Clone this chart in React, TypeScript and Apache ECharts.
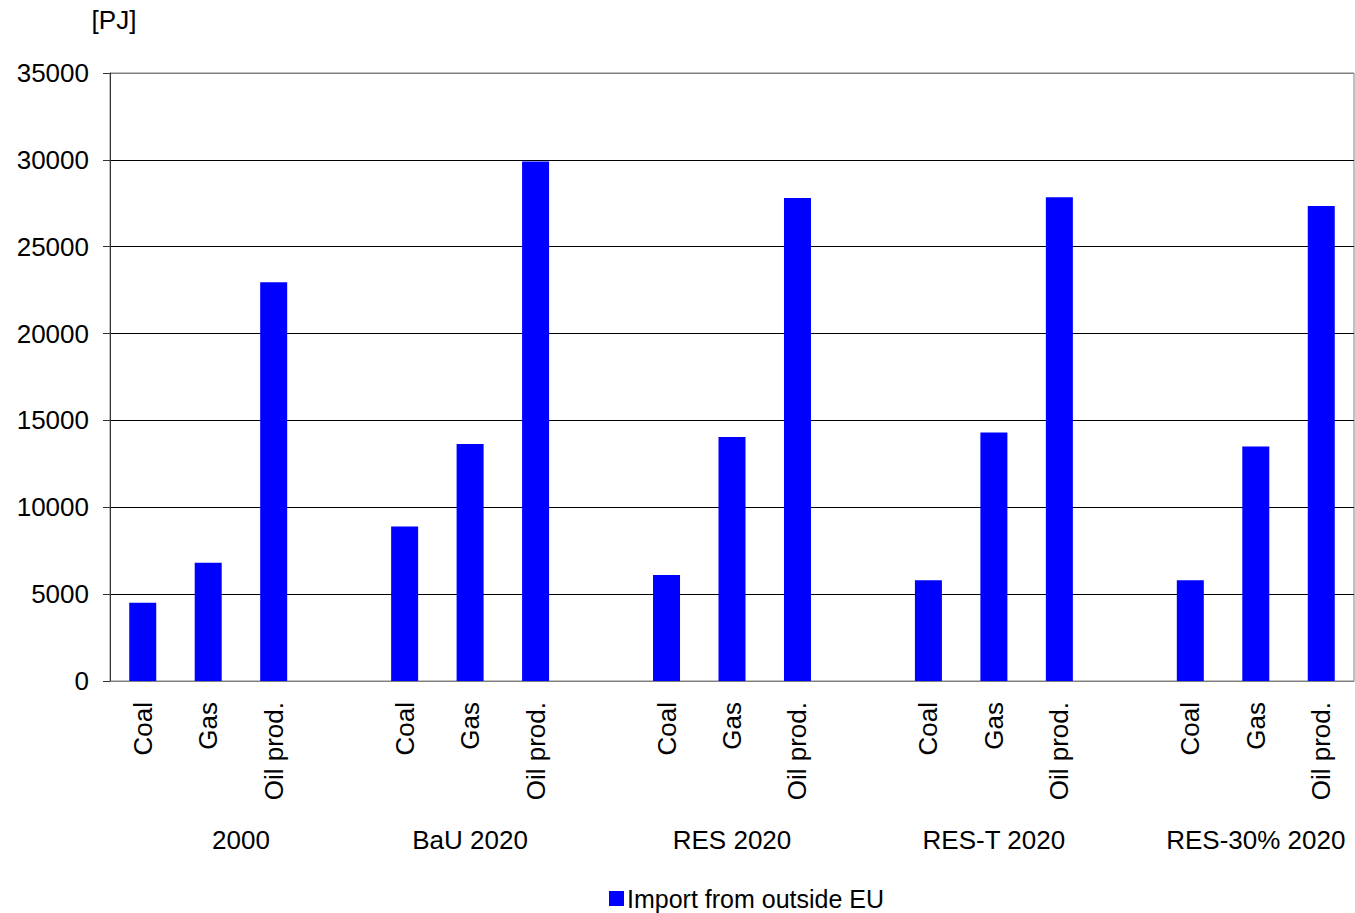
import React, { useEffect, useRef } from "react";
import * as echarts from "echarts";

// Scenarios and fuels shown on the category axis
const scenarios = ["2000", "BaU 2020", "RES 2020", "RES-T 2020", "RES-30% 2020"];
const fuels = ["Coal", "Gas", "Oil prod."];

// Import from outside EU [PJ], per scenario: Coal, Gas, Oil prod.
const import2000 = [4500, 6800, 22950];
const importBaU2020 = [8900, 13650, 29900];
const importRES2020 = [6100, 14050, 27800];
const importREST2020 = [5800, 14300, 27850];
const importRES30_2020 = [5800, 13500, 27350];

const yTicks = [0, 5000, 10000, 15000, 20000, 25000, 30000, 35000];
const seriesName = "Import from outside EU";
const unitLabel = "[PJ]";

const FONT = "'Liberation Sans', Arial, sans-serif";

export default function App() {
  const ref = useRef<HTMLDivElement>(null);

  useEffect(() => {
    if (!ref.current) return;
    const chart = echarts.init(ref.current, undefined, { renderer: "svg" });

    const groups = [import2000, importBaU2020, importRES2020, importREST2020, importRES30_2020];
    const categories: string[] = [];
    const values: (number | string)[] = [];
    groups.forEach((g, gi) => {
      fuels.forEach((f, fi) => {
        categories.push(f);
        values.push(g[fi]);
      });
      if (gi < groups.length - 1) {
        categories.push("");
        values.push("-");
      }
    });

    const gridLineColors = yTicks.map((v, i) =>
      i === yTicks.length - 1 ? "#808080" : "#000000"
    );

    chart.setOption({
      animation: false,
      backgroundColor: "#ffffff",
      textStyle: { fontFamily: FONT },
      grid: {
        left: 110,
        right: 1,
        top: 73,
        bottom: 232,
        show: true,
        borderColor: "#808080",
        borderWidth: 1,
      },
      legend: {
        left: 604,
        top: 881,
        icon: "rect",
        itemWidth: 15,
        itemHeight: 15,
        itemGap: 10,
        textStyle: { fontSize: 25, color: "#000", fontFamily: FONT, padding: [0, 0, 0, -2] },
        data: [seriesName],
      },
      xAxis: {
        type: "category",
        data: categories,
        axisLine: { show: true, lineStyle: { color: "#808080", width: 1 } },
        axisTick: { show: false },
        axisLabel: {
          interval: 0,
          rotate: 90,
          margin: 21,
          fontSize: 26,
          color: "#000",
          fontFamily: FONT,
        },
      },
      yAxis: {
        type: "value",
        min: 0,
        max: 35000,
        interval: 5000,
        axisLine: { show: true, lineStyle: { color: "#333333", width: 1 } },
        axisTick: { show: true, length: 7, lineStyle: { color: "#333333" } },
        axisLabel: {
          fontSize: 26,
          color: "#000",
          margin: 21,
          fontFamily: FONT,
          formatter: (v: number) => String(v),
        },
        splitLine: { show: true, lineStyle: { color: gridLineColors, width: 1 } },
      },
      series: [
        {
          name: seriesName,
          type: "bar",
          data: values,
          barWidth: 27,
          itemStyle: { color: "#0000ff" },
        },
      ],
    });

    // Scenario labels under each group of bars, placed through the category scale
    const px = (i: number) => chart.convertToPixel({ xAxisIndex: 0 }, i) as number;
    const groupCenter = (gi: number) => {
      const start = gi * 4;
      const end = gi === 0 ? start + 3 : start + 2;
      return (px(start) + px(end)) / 2;
    };
    const groupTexts = scenarios.map((s, gi) => ({
      type: "text",
      x: groupCenter(gi),
      y: 840,
      style: {
        text: s,
        fontSize: 26,
        fontFamily: FONT,
        fill: "#000",
        align: "center",
        verticalAlign: "middle",
      },
    }));

    chart.setOption({
      graphic: [
        {
          type: "text",
          x: 114,
          y: 20,
          style: {
            text: unitLabel,
            fontSize: 26,
            fontFamily: FONT,
            fill: "#000",
            align: "center",
            verticalAlign: "middle",
          },
        },
        ...groupTexts,
      ],
    });

    return () => chart.dispose();
  }, []);

  return (
    <div
      ref={ref}
      style={{ position: "absolute", left: 0, top: 0, width: 1355, height: 913 }}
    />
  );
}
